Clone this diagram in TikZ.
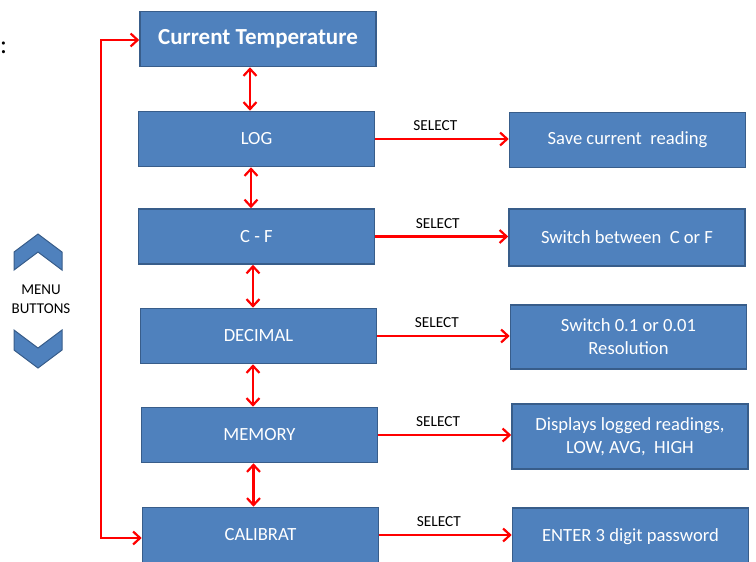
\documentclass[tikz,border=0pt]{standalone}
\usepackage{fontspec}
\setmainfont{Carlito}
\usetikzlibrary{arrows.meta}
\definecolor{boxblue}{HTML}{4F81BD}
\definecolor{boxedge}{HTML}{385D8A}

\begin{document}
\begin{tikzpicture}[x=1pt,y=1pt,
    redtip/.tip={Straight Barb[length=7pt,width=13pt]},
    menubox/.style={draw=boxedge,line width=1.6pt,fill=boxblue,text=white,
      minimum width=236pt,minimum height=55pt,inner sep=0pt,align=center,
      font=\fontsize{18.6}{23}\selectfont},
    link/.style={red,line width=2.2pt,-redtip},
    updown/.style={red,line width=2.2pt,redtip-redtip},
    sel/.style={font=\fontsize{15.3}{17}\selectfont,text=black,inner sep=0pt}]
    \useasboundingbox (0,0) rectangle (756,-562);
    \clip (0,0) rectangle (756,-562);
    % menu column
    \node[menubox,font=\bfseries\fontsize{23}{27}\selectfont] (ct) at (258,-39) {Current Temperature};
    \node[menubox] (log) at (256.5,-139) {LOG};
    \node[menubox] (cf) at (256.5,-236.5) {C - F};
    \node[menubox] (dec) at (258.5,-336) {DECIMAL};
    \node[menubox] (mem) at (259.5,-435) {MEMORY};
    \node[menubox] (cal) at (260.5,-535) {CALIBRAT};
    % what SELECT does
    \node[menubox] (save) at (627.5,-140) {Save current \ reading};
    \node[menubox,minimum height=57pt] (sw) at (627,-237.5) {Switch between \ C or F};
    \node[menubox,minimum height=64pt] (res) at (628.5,-337) {Switch 0.1 or 0.01\\Resolution};
    \node[menubox,minimum height=65pt] (disp) at (630,-436.5) {Displays logged readings,\\LOW, AVG, \ HIGH};
    \node[menubox,minimum height=58pt] (pwd) at (630.5,-537) {ENTER 3 digit password};
    % up and down
    \draw[updown] ([xshift=-8pt]ct.south) -- ([xshift=-6.5pt]log.north);
    \draw[updown] ([xshift=-5.5pt]log.south) -- ([xshift=-5.5pt]cf.north);
    \draw[updown] ([xshift=-3.5pt]cf.south) -- ([xshift=-5.5pt]dec.north);
    \draw[updown] ([xshift=-5.5pt]dec.south) -- ([xshift=-6.5pt]mem.north);
    \draw[updown] ([xshift=-6pt]mem.south) -- ([xshift=-7pt]cal.north);
    % wrap round
    \draw[updown] ([yshift=-1pt]ct.west) -| ([xshift=-41pt,yshift=-3pt]cal.west) -- ([yshift=-3pt]cal.west);
    % select arrows
    \draw[link] (log.east) -- (log.east -| save.west) node[sel,pos=0.45,above=7pt] {SELECT};
    \draw[link] (cf.east) -- (cf.east -| sw.west) node[sel,pos=0.47,above=7pt] {SELECT};
    \draw[link] (dec.east) -- (dec.east -| res.west) node[sel,pos=0.45,above=7pt] {SELECT};
    \draw[link] (mem.east) -- (mem.east -| disp.west) node[sel,pos=0.45,above=7pt] {SELECT};
    \draw[link] (cal.east) -- (cal.east -| pwd.west) node[sel,pos=0.45,above=7pt] {SELECT};
    % menu buttons
    \filldraw[fill=boxblue,draw=boxedge,line width=1pt] (14,-270) -- (14,-252) -- (38,-234) -- (62,-252) -- (62,-270) -- (38,-252) -- cycle;
    \filldraw[fill=boxblue,draw=boxedge,line width=1pt] (14,-330) -- (38,-348) -- (62,-330) -- (62,-350) -- (38,-368) -- (14,-350) -- cycle;
    \node[sel,align=center,font=\fontsize{15}{19}\selectfont] (menu) at (41,-299.5) {MENU\\BUTTONS};
    \node[anchor=west,inner sep=0pt,font=\fontsize{26}{26}\selectfont] (colon) at (0,-48) {:};
\end{tikzpicture}
\end{document}
